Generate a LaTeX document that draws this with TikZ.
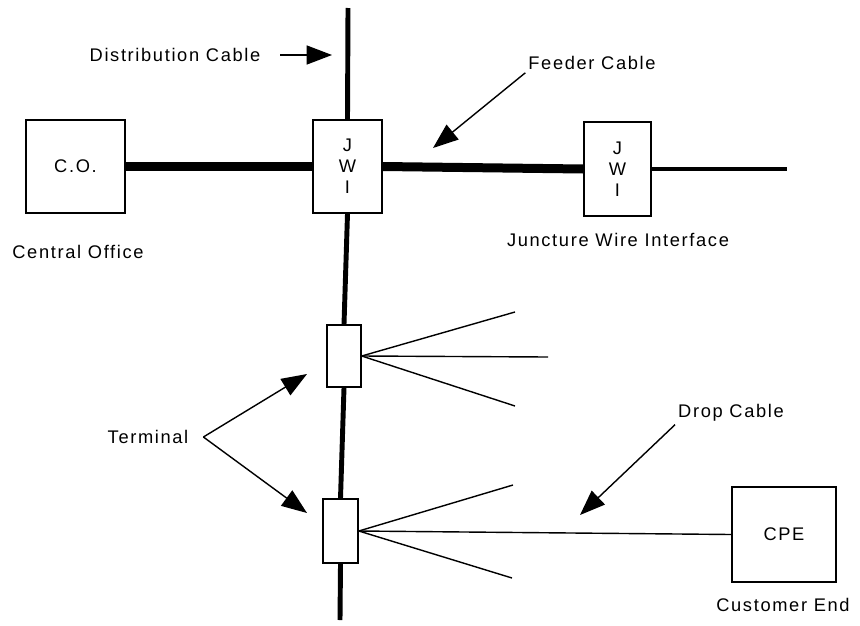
\documentclass[tikz,border=0pt]{standalone}
\usepackage{fontspec}
\setmainfont[LetterSpace=9]{Liberation Sans}
\usetikzlibrary{arrows.meta}
\usetikzlibrary{positioning}

\tikzset{
  box/.style={draw=black, line width=1pt, fill=white, inner sep=0pt},
  lbl/.style={inner sep=2pt, font=\fontsize{13}{15}\selectfont},
  feeder/.style={line width=6.4pt},
  distr/.style={line width=3.5pt},
  wire/.style={line width=1pt},
  pointer/.style={line width=1pt, -{Triangle[length=18pt, width=13.5pt]}},
}

\begin{document}
\begin{tikzpicture}[x=0.025cm, y=-0.025cm, font=\fontsize{13}{15}\selectfont]
\useasboundingbox (0,0) rectangle (860,625);

% boxes
\node[box, minimum width=2.48cm, minimum height=2.33cm] (co) at (75.5,166.5) {C.O.};
\node[box, minimum width=1.72cm, minimum height=2.33cm, align=center] (jwi1) at (347.5,166.5) {J\\W\\I};
\node[box, minimum width=1.68cm, minimum height=2.35cm, align=center] (jwi2) at (617.5,169) {J\\W\\I};
\node[box, minimum width=0.85cm, minimum height=1.55cm] (term1) at (344,356) {};
\node[box, minimum width=0.88cm, minimum height=1.6cm] (term2) at (340.5,531) {};
\node[box, minimum width=2.6cm, minimum height=2.38cm] (cpe) at (784,534.5) {CPE};

% free ends
\coordinate (disttop) at (348,8);
\coordinate (distbot) at (340,620);
\coordinate (feedend) at (787,169);
\coordinate (f1a) at (515,312);
\coordinate (f1b) at (548,357);
\coordinate (f1c) at (515,406);
\coordinate (f2a) at (513,485);
\coordinate (f2c) at (512,578);

% cables
\draw[distr] (disttop) -- (jwi1.north);
\draw[distr] (jwi1.south) -- (term1.north);
\draw[distr] (term1.south) -- (term2.north);
\draw[distr] (term2.south) -- (distbot);
\draw[feeder] (co.east) -- (jwi1.west);
\draw[feeder] (jwi1.east) -- (jwi2.west);
\draw[line width=2.8pt] (jwi2.east) -- (feedend);
\foreach \e in {f1a,f1b,f1c} \draw[wire] (term1.east) -- (\e);
\foreach \e in {f2a,f2c} \draw[wire] (term2.east) -- (\e);
\draw[wire] (term2.east) -- (cpe.west);

% labels
\node[lbl] (distlab) at (175,55) {Distribution Cable};
\node[lbl] (feedlab) at (592,63) {Feeder Cable};
\node[lbl] (colab) at (78,252) {Central Office};
\node[lbl] (jwilab) at (618,240) {Juncture Wire Interface};
\node[lbl] (termlab) at (148,437) {Terminal};
\node[lbl] (droplab) at (731,413) {Drop Cable};
\node[lbl] (cpelab) at (783,605) {Customer End};

% pointers
\coordinate (disttip) at (332,55);
\coordinate (feedtip) at (433,148);
\coordinate[right=0.3cm of termlab.east] (termfork);
\coordinate (termtipa) at (307,374);
\coordinate (termtipb) at (307,513);
\coordinate (droptip) at (580,515);
\draw[pointer, shorten <=12pt] (distlab.east) -- (disttip);
\draw[pointer] (feedlab.south west) -- (feedtip);
\draw[pointer] (termfork) -- (termtipa);
\draw[pointer] (termfork) -- (termtipb);
\draw[pointer] (droplab.south west) -- (droptip);
\end{tikzpicture}
\end{document}
